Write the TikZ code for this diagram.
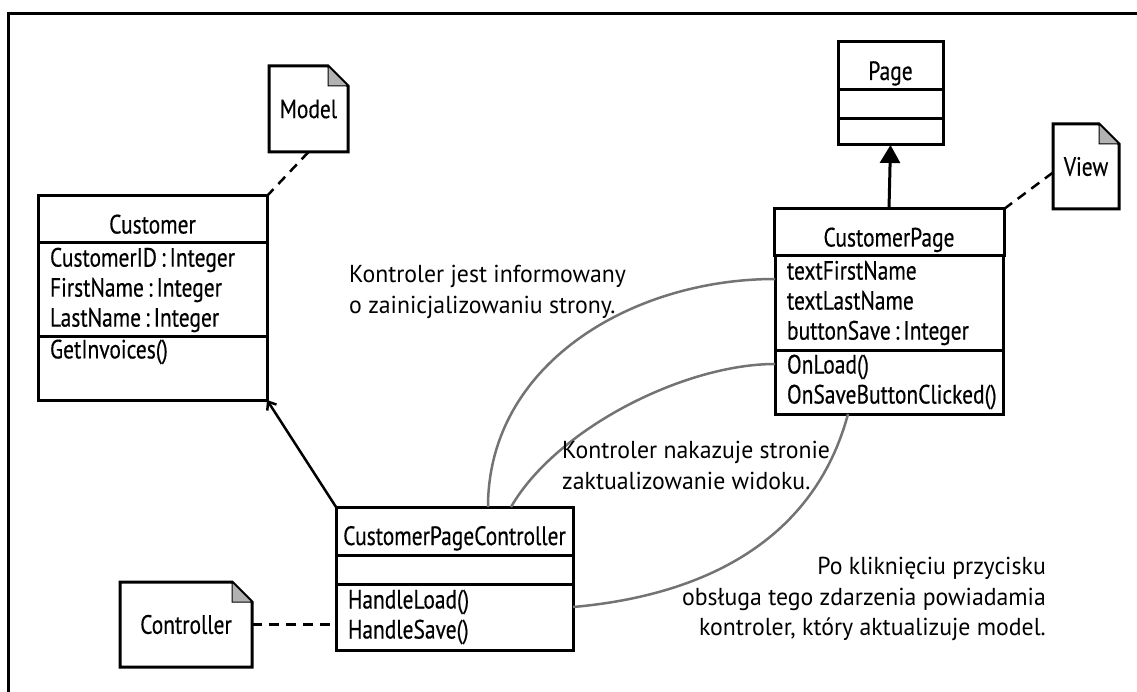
\documentclass[tikz,border=0pt]{standalone}
\usepackage{fontspec}
\setmainfont{PT Sans}[FakeStretch=0.97]
\newfontfamily\classfont{PT Sans}[FakeStretch=0.81, FakeBold=0.4]
\usetikzlibrary{positioning,calc,arrows.meta}

% note with a folded corner, drawn round a node
\newcommand{\NoteFold}[1]{%
\draw[NoteLine] (#1.north west) -- ([xshift=-20pt]#1.north east) -- ([yshift=-20pt]#1.north east) -- (#1.south east) -- (#1.south west) -- cycle;
\filldraw[NoteLine, fill=gray!60, line width=1pt] ([xshift=-20pt]#1.north east) -- ([xshift=-20pt,yshift=-20pt]#1.north east) -- ([yshift=-20pt]#1.north east) -- cycle;}
% tight colon between a field and its type
\newcommand{\ofType}{\hspace{4pt}:\hspace{4pt}}

\begin{document}
\begin{tikzpicture}[
x=1pt, y=-1pt,
ClassTitle/.style={draw, line width=3pt, outer sep=0pt, inner sep=0pt, text height=30pt, text depth=2pt, font=\classfont\fontsize{26.5}{30}\selectfont},
ClassPart/.style={draw, line width=3pt, outer sep=0pt, inner xsep=12pt, inner ysep=0pt, align=left, font=\classfont\fontsize{26.5}{30}\selectfont},
NoteBox/.style={outer sep=0pt, inner sep=0pt, font=\classfont\fontsize{26.5}{30}\selectfont},
NoteLine/.style={line width=3pt, line join=miter},
NoteLink/.style={line width=2.5pt, dash pattern=on 10pt off 7pt},
Signal/.style={line width=2.5pt, color=black!55},
Remark/.style={inner sep=0pt, font=\fontsize{24.5}{30.5}\selectfont}
]
\useasboundingbox (0,0) rectangle (1137,692);
\draw[line width=3pt] (8.5,13.5) rectangle (1150,710);

% Model
\node[ClassTitle, minimum width=229, minimum height=47] (custT) at (152.5,219.5) {Customer};
\node[ClassPart, minimum height=94, text width=205, below=0pt of custT] (custA) {CustomerID\ofType Integer\\FirstName\ofType Integer\\LastName\ofType Integer};
\node[ClassPart, minimum height=63, text width=205, below=0pt of custA] (custM) {GetInvoices()\\\strut};

% View
\node[ClassTitle, minimum width=105, minimum height=48] (pageT) at (890.5,66) {Page};
\node[ClassPart, minimum width=105, minimum height=29, below=0pt of pageT] (pageA) {};
\node[ClassPart, minimum width=105, minimum height=26, below=0pt of pageA] (pageM) {};

\node[ClassTitle, minimum width=230, minimum height=47] (cpT) at (889,232.5) {CustomerPage};
\node[ClassPart, minimum height=94, text width=204, below=0pt of cpT] (cpA) {textFirstName\\textLastName\\buttonSave\ofType Integer};
\node[ClassPart, minimum height=64, text width=204, below=0pt of cpA] (cpM) {OnLoad()\\OnSaveButtonClicked()};

% Controller
\node[ClassTitle, minimum width=237, minimum height=48] (cpcT) at (454.5,531) {CustomerPageController};
\node[ClassPart, minimum width=237, minimum height=29, below=0pt of cpcT] (cpcA) {};
\node[ClassPart, minimum height=66, text width=213, below=0pt of cpcA] (cpcM) {HandleLoad()\\HandleSave()};

% notes
\node[NoteBox, minimum width=79, minimum height=86] (model) at (308.5,109) {Model};
\NoteFold{model}
\node[NoteBox, minimum width=66, minimum height=85] (view) at (1086,166.5) {View};
\NoteFold{view}
\node[NoteBox, minimum width=132, minimum height=85] (ctrl) at (186,624.5) {Controller};
\NoteFold{ctrl}

\draw[NoteLink] (model.south) -- (custT.north east);
\draw[NoteLink] (cpT.north east) -- ([yshift=-6pt]view.west);
\draw[NoteLink] (ctrl.east) -- (ctrl.east -| cpcM.west);

% relations
\draw[line width=3pt, -{Triangle[length=18pt, width=20pt]}] (cpT.north) -- (pageM.south);
\draw[line width=2.5pt, -{Straight Barb[length=7pt, width=11pt]}] (cpcT.north west) -- (custM.south east);

% messages between controller and page
\draw[Signal] ([xshift=33.5pt]cpcT.north) to[out=90, in=180] ([yshift=24pt]cpA.west);
\draw[Signal] ([xshift=56.5pt]cpcT.north) to[out=60, in=180, looseness=0.77] ([yshift=18pt]cpM.west);
\draw[Signal] ([yshift=10pt]cpcM.east) to[out=5, in=255] ([xshift=-41pt]cpM.south);

\node[Remark, align=left, anchor=north west] (r1) at (349,265) {Kontroler jest informowany\\o zainicjalizowaniu strony.};
\node[Remark, align=left, anchor=north west] (r2) at (562,441) {Kontroler nakazuje stronie\\zaktualizowanie widoku.};
\node[Remark, align=right, anchor=north east] (r3) at (1046,557) {Po kliknięciu przycisku\\obsługa tego zdarzenia powiadamia\\kontroler, który aktualizuje model.};

\end{tikzpicture}
\end{document}
